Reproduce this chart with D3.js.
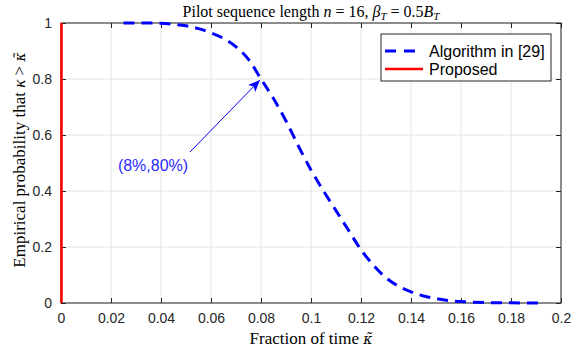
<!DOCTYPE html>
<html><head><meta charset="utf-8">
<script src="https://cdn.jsdelivr.net/npm/d3@7"></script>
<style>body{margin:0;background:#fff}svg{display:block}</style>
</head><body>
<svg id="c" width="571" height="349"></svg>
<script>
// Data
const xTicks = [0,0.02,0.04,0.06,0.08,0.1,0.12,0.14,0.16,0.18,0.2];
const xTickLabels = ["0","0.02","0.04","0.06","0.08","0.1","0.12","0.14","0.16","0.18","0.2"];
const yTicks = [0,0.2,0.4,0.6,0.8,1];
const yTickLabels = ["0","0.2","0.4","0.6","0.8","1"];
const algKappa = [0.025,0.03,0.035,0.04,0.045,0.05,0.055,0.06,0.065,0.07,0.075,0.08,0.085,0.09,0.095,0.1,0.105,0.11,0.115,0.12,0.125,0.13,0.135,0.14,0.145,0.15,0.155,0.16,0.165,0.17,0.175,0.18,0.185,0.19,0.1925];
const algProb  = [1.0,1.0,1.0,0.999,0.995,0.99,0.98,0.965,0.945,0.915,0.87,0.80,0.73,0.65,0.56,0.475,0.40,0.33,0.26,0.19,0.135,0.09,0.06,0.04,0.025,0.016,0.009,0.005,0.003,0.0015,0.001,0.0005,0,0,0];
const propKappa = [0.0002,0.0002];
const propProb  = [1,0];
const seriesNames = ["Algorithm in [29]","Proposed"];
const annotText = "(8%,80%)";
const annotPoint = [0.08,0.80];

const svg = d3.select("#c");
const L=61, R=561, T=23, B=303;
const x = d3.scaleLinear().domain([0,0.2]).range([L,R]);
const y = d3.scaleLinear().domain([0,1]).range([B,T]);
const axisCol = "#262626";
const tickFont = "Liberation Sans, Arial, sans-serif";
const serif = "'Liberation Serif','Times New Roman',serif";

// grid
const g = svg.append("g");
g.selectAll(".gx").data(xTicks).enter().append("line")
 .attr("x1",d=>x(d)).attr("x2",d=>x(d)).attr("y1",T).attr("y2",B)
 .attr("stroke","#e3e3e3").attr("stroke-width",1);
g.selectAll(".gy").data(yTicks).enter().append("line")
 .attr("y1",d=>y(d)).attr("y2",d=>y(d)).attr("x1",L).attr("x2",R)
 .attr("stroke","#e3e3e3").attr("stroke-width",1);

// axes
function styleAxis(sel){
  sel.select(".domain").remove();
  sel.selectAll(".tick line").attr("stroke",axisCol);
  sel.selectAll(".tick text").attr("fill",axisCol).style("font-family",tickFont).style("font-size","14px");
}
const fx = (d)=>xTickLabels[xTicks.indexOf(d)];
const fy = (d)=>yTickLabels[yTicks.indexOf(d)];
svg.append("g").attr("transform",`translate(0,${B})`)
 .call(d3.axisBottom(x).tickValues(xTicks).tickFormat(fx).tickSizeInner(-5).tickSizeOuter(0).tickPadding(10)).call(styleAxis);
svg.append("g").attr("transform",`translate(0,${T})`)
 .call(d3.axisTop(x).tickValues(xTicks).tickFormat("").tickSizeInner(-5).tickSizeOuter(0)).call(styleAxis);
svg.append("g").attr("transform",`translate(${L},0)`)
 .call(d3.axisLeft(y).tickValues(yTicks).tickFormat(fy).tickSizeInner(-5).tickSizeOuter(0).tickPadding(9)).call(styleAxis);
svg.append("g").attr("transform",`translate(${R},0)`)
 .call(d3.axisRight(y).tickValues(yTicks).tickFormat("").tickSizeInner(-5).tickSizeOuter(0)).call(styleAxis);
svg.append("rect").attr("x",L).attr("y",T).attr("width",R-L).attr("height",B-T)
 .attr("fill","none").attr("stroke",axisCol).attr("stroke-width",1);

// lines
const line = d3.line().x(d=>x(d[0])).y(d=>y(d[1])).curve(d3.curveMonotoneX);
svg.append("path").datum(algKappa.map((k,i)=>[k,algProb[i]]))
 .attr("d",line).attr("fill","none").attr("stroke","#0000ff").attr("stroke-width",3)
 .attr("stroke-dasharray","11,7");
svg.append("path").datum(propKappa.map((k,i)=>[k,propProb[i]]))
 .attr("d",d3.line().x(d=>x(d[0])).y(d=>y(d[1]))).attr("fill","none").attr("stroke","#ff0000").attr("stroke-width",2.5);

// annotation arrow
const defs = svg.append("defs");
defs.append("marker").attr("id","ah").attr("viewBox","0 0 12 10").attr("refX",12).attr("refY",5)
 .attr("markerWidth",12).attr("markerHeight",10).attr("markerUnits","userSpaceOnUse").attr("orient","auto")
 .append("path").attr("d","M0,0 L12,5 L0,10 L3,5 Z").attr("fill","#0000ff");
svg.append("line").attr("x1",190).attr("y1",152).attr("x2",x(annotPoint[0])-1).attr("y2",y(annotPoint[1])+1)
 .attr("stroke","#0000ff").attr("stroke-width",1).attr("marker-end","url(#ah)");
svg.append("text").attr("x",153).attr("y",171).attr("text-anchor","middle")
 .attr("fill","#2b2bff").style("font-family",tickFont).style("font-size","16px").text(annotText);

// legend
const lg = svg.append("g");
lg.append("rect").attr("x",381).attr("y",34).attr("width",170).attr("height",47)
 .attr("fill","#fff").attr("stroke",axisCol).attr("stroke-width",1);
const lcol = ["#0000ff","#ff0000"], ldash=["11,8",null], lw=[3,2.5];
seriesNames.forEach((n,i)=>{
  const yy = 51+i*18;
  const l = lg.append("line").attr("x1",385).attr("x2",423).attr("y1",yy).attr("y2",yy)
   .attr("stroke",lcol[i]).attr("stroke-width",lw[i]);
  if(ldash[i]) l.attr("stroke-dasharray",ldash[i]);
  lg.append("text").attr("x",429).attr("y",yy+5.5).attr("fill","#000")
   .style("font-family",tickFont).style("font-size","16px").text(n);
});

// title & labels
const title = svg.append("text").attr("x",311).attr("y",17).attr("text-anchor","middle")
 .attr("fill","#000").style("font-family",serif).style("font-size","16px");
title.append("tspan").text("Pilot sequence length ");
title.append("tspan").style("font-style","italic").text("n");
title.append("tspan").text(" = 16, ");
title.append("tspan").style("font-style","italic").text("β");
title.append("tspan").style("font-style","italic").style("font-size","11px").attr("dy",3).text("T");
title.append("tspan").attr("dy",-3).text(" = 0.5");
title.append("tspan").style("font-style","italic").text("B");
title.append("tspan").style("font-style","italic").style("font-size","11px").attr("dy",3).text("T");

function kappaTilde(t){
  t.append("tspan").style("font-family","'DejaVu Serif',serif").style("font-style","italic")
   .style("font-size","14px").text("κ̃");
}
const xl = svg.append("text").attr("x",311).attr("y",344).attr("text-anchor","middle")
 .attr("fill","#000").style("font-family",serif).style("font-size","17px");
xl.append("tspan").text("Fraction of time ");
kappaTilde(xl);

const yl = svg.append("text").attr("transform","translate(25,160) rotate(-90)").attr("text-anchor","middle")
 .attr("fill","#000").style("font-family",serif).style("font-size","17px");
yl.append("tspan").text("Empirical probability that ");
yl.append("tspan").style("font-style","italic").text("κ");
yl.append("tspan").text(" > ");
kappaTilde(yl);
</script>
</body></html>
